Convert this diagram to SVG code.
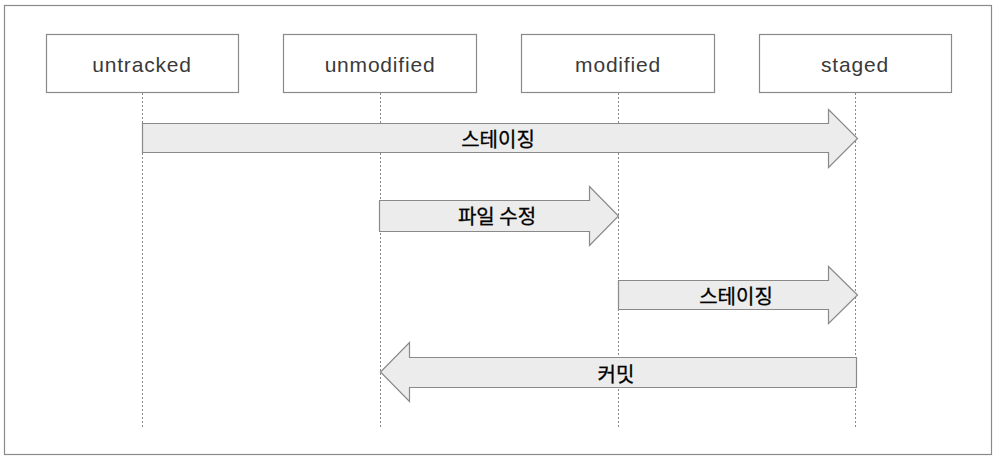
<svg xmlns="http://www.w3.org/2000/svg" width="995" height="460" viewBox="0 0 995 460">
<style>
.frame{fill:#fff;stroke:#8a8a8a;stroke-width:1.2}
.box{fill:#fff;stroke:#8a8a8a;stroke-width:1.2}
.lbl{font-family:"Liberation Sans","Noto Sans",sans-serif;font-size:21px;letter-spacing:0.8px;fill:#3a3a3a;text-anchor:middle}
.life{stroke:#8a8a8a;stroke-width:1;stroke-dasharray:2 2;fill:none}
.arrow{fill:#ececec;stroke:#8a8a8a;stroke-width:1.2;stroke-linejoin:miter}
.kor{font-family:"Noto Sans CJK KR",sans-serif;font-size:20px;fill:#000;stroke:#000;stroke-width:0.3;text-anchor:middle;dominant-baseline:central}
</style>
<rect width="995" height="460" fill="#fff"/>
<rect class="frame" x="4.5" y="5.5" width="987" height="449"/>
<g id="untracked"><rect class="box" x="46.5" y="34.5" width="192" height="58"/><text class="lbl" x="142" y="72">untracked</text></g>
<g id="unmodified"><rect class="box" x="283.5" y="34.5" width="193" height="58"/><text class="lbl" x="380" y="72">unmodified</text></g>
<g id="modified"><rect class="box" x="521.5" y="34.5" width="193" height="58"/><text class="lbl" x="618" y="72">modified</text></g>
<g id="staged"><rect class="box" x="759.5" y="34.5" width="192" height="58"/><text class="lbl" x="855" y="72">staged</text></g>
<g id="connectors">
<line class="life" x1="142.5" y1="93" x2="142.5" y2="427"/>
<line class="life" x1="380.5" y1="93" x2="380.5" y2="427"/>
<line class="life" x1="618.5" y1="93" x2="618.5" y2="427"/>
<line class="life" x1="855.5" y1="93" x2="855.5" y2="427"/>
<g id="staging1"><polygon class="arrow" points="142.5,123.5 828.5,123.5 828.5,109.5 857.5,138.5 828.5,167.5 828.5,152.5 142.5,152.5"/><text class="kor" x="498" y="138">스테이징</text></g>
<g id="edit"><polygon class="arrow" points="379.5,200.5 589.5,200.5 589.5,186.5 618.5,216 589.5,245.5 589.5,231.5 379.5,231.5"/><text class="kor" x="497" y="215">파일 수정</text></g>
<g id="staging2"><polygon class="arrow" points="618.5,280.5 828.5,280.5 828.5,266.5 857.5,295 828.5,323.5 828.5,309.5 618.5,309.5"/><text class="kor" x="736" y="295">스테이징</text></g>
<g id="commit"><polygon class="arrow" points="856.5,357.5 409.5,357.5 409.5,342.5 380.5,372 409.5,401.5 409.5,387.5 856.5,387.5"/><text class="kor" x="616" y="373">커밋</text></g>
</g>
</svg>
